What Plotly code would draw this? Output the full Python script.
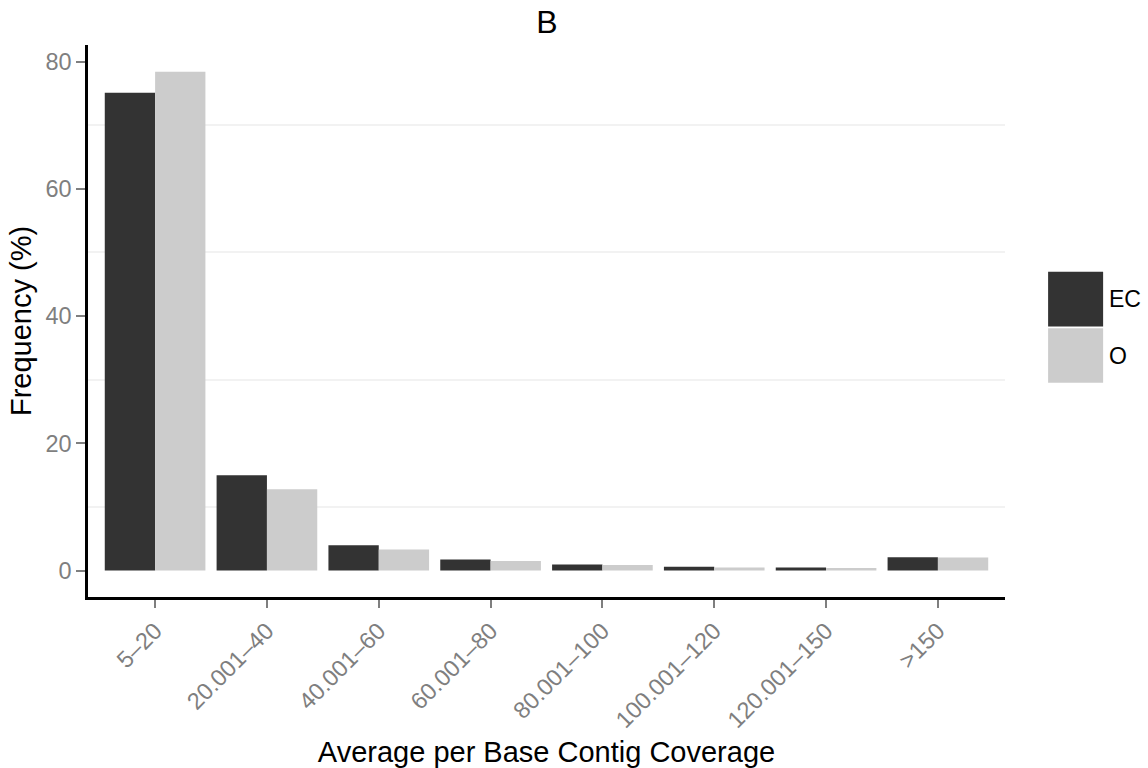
import plotly.graph_objects as go

# Coverage bins and frequency (%) per group
categories = ["5–20", "20.001–40", "40.001–60", "60.001–80",
              "80.001–100", "100.001–120", "120.001–150", ">150"]
series_names = ["EC", "O"]
ec_values = [75.1, 15.0, 4.0, 1.76, 0.97, 0.6, 0.5, 2.1]
o_values = [78.4, 12.8, 3.3, 1.5, 0.86, 0.5, 0.39, 2.05]
y_ticks = [0, 20, 40, 60, 80]
y_minor_grid = [10, 30, 50, 70]

colors = {"EC": "#333333", "O": "#cccccc"}
FONT = "Liberation Sans, Arial, Helvetica, sans-serif"
TICK_GREY = "#7f7f7f"

fig = go.Figure()
for name, vals in zip(series_names, [ec_values, o_values]):
    fig.add_trace(go.Bar(
        x=categories, y=vals, name=name,
        marker=dict(color=colors[name], line=dict(width=0)),
        showlegend=False,
    ))

# Legend keys drawn as large squares to the right of the panel
key_rows = [(0.589, 0.490, 0.540), (0.487, 0.388, 0.437)]
for name, (top, bottom, mid) in zip(series_names, key_rows):
    fig.add_shape(type="rect", xref="paper", yref="paper",
                  x0=1.047, x1=1.107, y0=bottom, y1=top,
                  fillcolor=colors[name], line=dict(width=0))
    fig.add_annotation(xref="paper", yref="paper", x=1.111, y=mid,
                       text=name, showarrow=False, xanchor="left",
                       yanchor="middle",
                       font=dict(family=FONT, size=23, color="#000000"))

fig.update_layout(
    width=1148, height=768,
    margin=dict(l=88, r=143, t=45, b=171, autoexpand=False),
    paper_bgcolor="white", plot_bgcolor="white",
    barmode="group", bargap=0.1, bargroupgap=0,
    font=dict(family=FONT),
    title=dict(text="B", x=0.4765, xanchor="center", y=0.971,
               yanchor="middle",
               font=dict(family=FONT, size=32, color="#000000")),
)

fig.update_xaxes(
    type="category", range=[-0.6, 7.6],
    showline=True, linecolor="#000000", linewidth=2.5,
    ticks="outside", ticklen=8, tickwidth=2, tickcolor=TICK_GREY,
    tickangle=-45, tickfont=dict(family=FONT, size=23.5, color=TICK_GREY),
    showgrid=False, zeroline=False,
    title=dict(text="Average per Base Contig Coverage", standoff=12,
               font=dict(family=FONT, size=29, color="#000000")),
)

fig.update_yaxes(
    range=[-4.15, 82.6], tickvals=y_ticks,
    showline=True, linecolor="#000000", linewidth=2.5,
    ticks="outside", ticklen=9, tickwidth=2, tickcolor=TICK_GREY,
    tickfont=dict(family=FONT, size=23.5, color=TICK_GREY),
    showgrid=False, zeroline=False,
    minor=dict(tickvals=y_minor_grid, showgrid=True, gridcolor="#f2f2f2",
               gridwidth=1.5, ticks=""),
    title=dict(text="Frequency (%)", standoff=6,
               font=dict(family=FONT, size=29, color="#000000")),
)

fig.write_html("out.html")
